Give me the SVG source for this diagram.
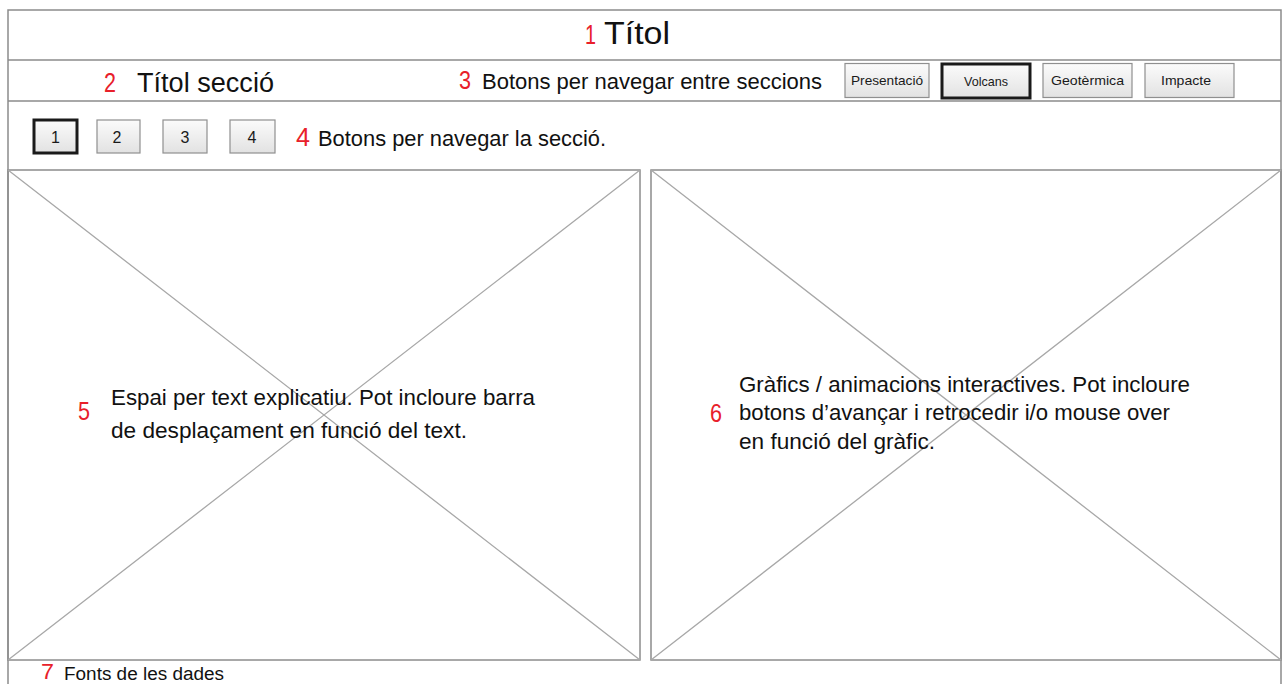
<svg xmlns="http://www.w3.org/2000/svg" width="1288" height="684" viewBox="0 0 1288 684">
<style>
.frame{fill:none;stroke:#8c8c8c;stroke-width:1.5}
.diag{stroke:#a8a8a8;stroke-width:1.3}
.btn{fill:url(#g);stroke:#8f8f8f;stroke-width:1.2}
.sel{fill:url(#g);stroke:#1a1a1a;stroke-width:3}
.t{font-family:"Liberation Sans",Arial,sans-serif;fill:#111}
.r{font-family:"Liberation Sans",Arial,sans-serif;fill:#e8202a}
.bl{font-family:"Liberation Sans",Arial,sans-serif;fill:#1a1a1a;text-anchor:middle}
</style>
<defs>
<linearGradient id="g" x1="0" y1="0" x2="0" y2="1">
<stop offset="0" stop-color="#fbfbfb"/>
<stop offset="1" stop-color="#e2e2e2"/>
</linearGradient>
</defs>
<rect width="1288" height="684" fill="#fff"/>
<g id="frame">
<path class="frame" d="M8 684V10H1281V684M8 60H1281M8 101H1281"/>
</g>
<g id="title">
<text class="r" x="585" y="44" font-size="27" textLength="11" lengthAdjust="spacingAndGlyphs">1</text>
<text class="t" x="604" y="44" font-size="31" textLength="66" lengthAdjust="spacingAndGlyphs">Títol</text>
</g>
<g id="section-title">
<text class="r" x="104" y="92" font-size="27" textLength="12" lengthAdjust="spacingAndGlyphs">2</text>
<text class="t" x="137" y="92" font-size="27" textLength="137" lengthAdjust="spacingAndGlyphs">Títol secció</text>
</g>
<g id="section-nav-label">
<text class="r" x="459" y="89" font-size="25" textLength="12" lengthAdjust="spacingAndGlyphs">3</text>
<text class="t" x="482" y="89" font-size="22" textLength="340" lengthAdjust="spacingAndGlyphs">Botons per navegar entre seccions</text>
</g>
<g id="btn-presentacio">
<rect class="btn" x="845" y="63.500" width="84" height="34"/>
<text class="bl" x="887" y="85" font-size="13" textLength="72" lengthAdjust="spacingAndGlyphs">Presentació</text>
</g>
<g id="btn-volcans">
<rect class="sel" x="942" y="64" width="88" height="34"/>
<text class="bl" x="986" y="86" font-size="13" textLength="44" lengthAdjust="spacingAndGlyphs">Volcans</text>
</g>
<g id="btn-geotermica">
<rect class="btn" x="1043" y="63.500" width="89" height="34"/>
<text class="bl" x="1087.500" y="85" font-size="13" textLength="73" lengthAdjust="spacingAndGlyphs">Geotèrmica</text>
</g>
<g id="btn-impacte">
<rect class="btn" x="1145" y="63.500" width="89" height="34"/>
<text class="bl" x="1186" y="85" font-size="13" textLength="50" lengthAdjust="spacingAndGlyphs">Impacte</text>
</g>
<g id="btn-1">
<rect class="sel" x="34" y="120" width="43" height="33"/>
<text class="bl" x="55.500" y="143" font-size="16">1</text>
</g>
<g id="btn-2">
<rect class="btn" x="97" y="120" width="43" height="33"/>
<text class="bl" x="117" y="143" font-size="16">2</text>
</g>
<g id="btn-3">
<rect class="btn" x="163" y="120" width="44" height="33"/>
<text class="bl" x="185" y="143" font-size="16">3</text>
</g>
<g id="btn-4">
<rect class="btn" x="230" y="120" width="45" height="33"/>
<text class="bl" x="252" y="143" font-size="16">4</text>
</g>
<g id="subsection-nav-label">
<text class="r" x="296" y="146" font-size="25" textLength="14" lengthAdjust="spacingAndGlyphs">4</text>
<text class="t" x="318" y="146" font-size="22" textLength="288" lengthAdjust="spacingAndGlyphs">Botons per navegar la secció.</text>
</g>
<g id="panel-text">
<rect class="frame" x="8" y="170" width="632" height="490"/>
<path class="diag" d="M8 170L640 660M640 170L8 660"/>
<text class="r" x="78" y="420" font-size="25" textLength="12" lengthAdjust="spacingAndGlyphs">5</text>
<text class="t" x="111" y="405" font-size="22" textLength="424" lengthAdjust="spacingAndGlyphs">Espai per text explicatiu. Pot incloure barra</text>
<text class="t" x="111" y="438" font-size="22" textLength="356" lengthAdjust="spacingAndGlyphs">de desplaçament en funció del text.</text>
</g>
<g id="panel-graphics">
<rect class="frame" x="651" y="170" width="630" height="490"/>
<path class="diag" d="M651 170L1281 660M1281 170L651 660"/>
<text class="r" x="710" y="422" font-size="25" textLength="12" lengthAdjust="spacingAndGlyphs">6</text>
<text class="t" x="739" y="392" font-size="22" textLength="451" lengthAdjust="spacingAndGlyphs">Gràfics / animacions interactives. Pot incloure</text>
<text class="t" x="739" y="420" font-size="22" textLength="431" lengthAdjust="spacingAndGlyphs">botons d’avançar i retrocedir i/o mouse over</text>
<text class="t" x="739" y="449" font-size="22" textLength="196" lengthAdjust="spacingAndGlyphs">en funció del gràfic.</text>
</g>
<g id="sources">
<text class="r" x="41" y="679" font-size="22" textLength="13" lengthAdjust="spacingAndGlyphs">7</text>
<text class="t" x="64" y="680" font-size="18" textLength="160" lengthAdjust="spacingAndGlyphs">Fonts de les dades</text>
</g>
</svg>
